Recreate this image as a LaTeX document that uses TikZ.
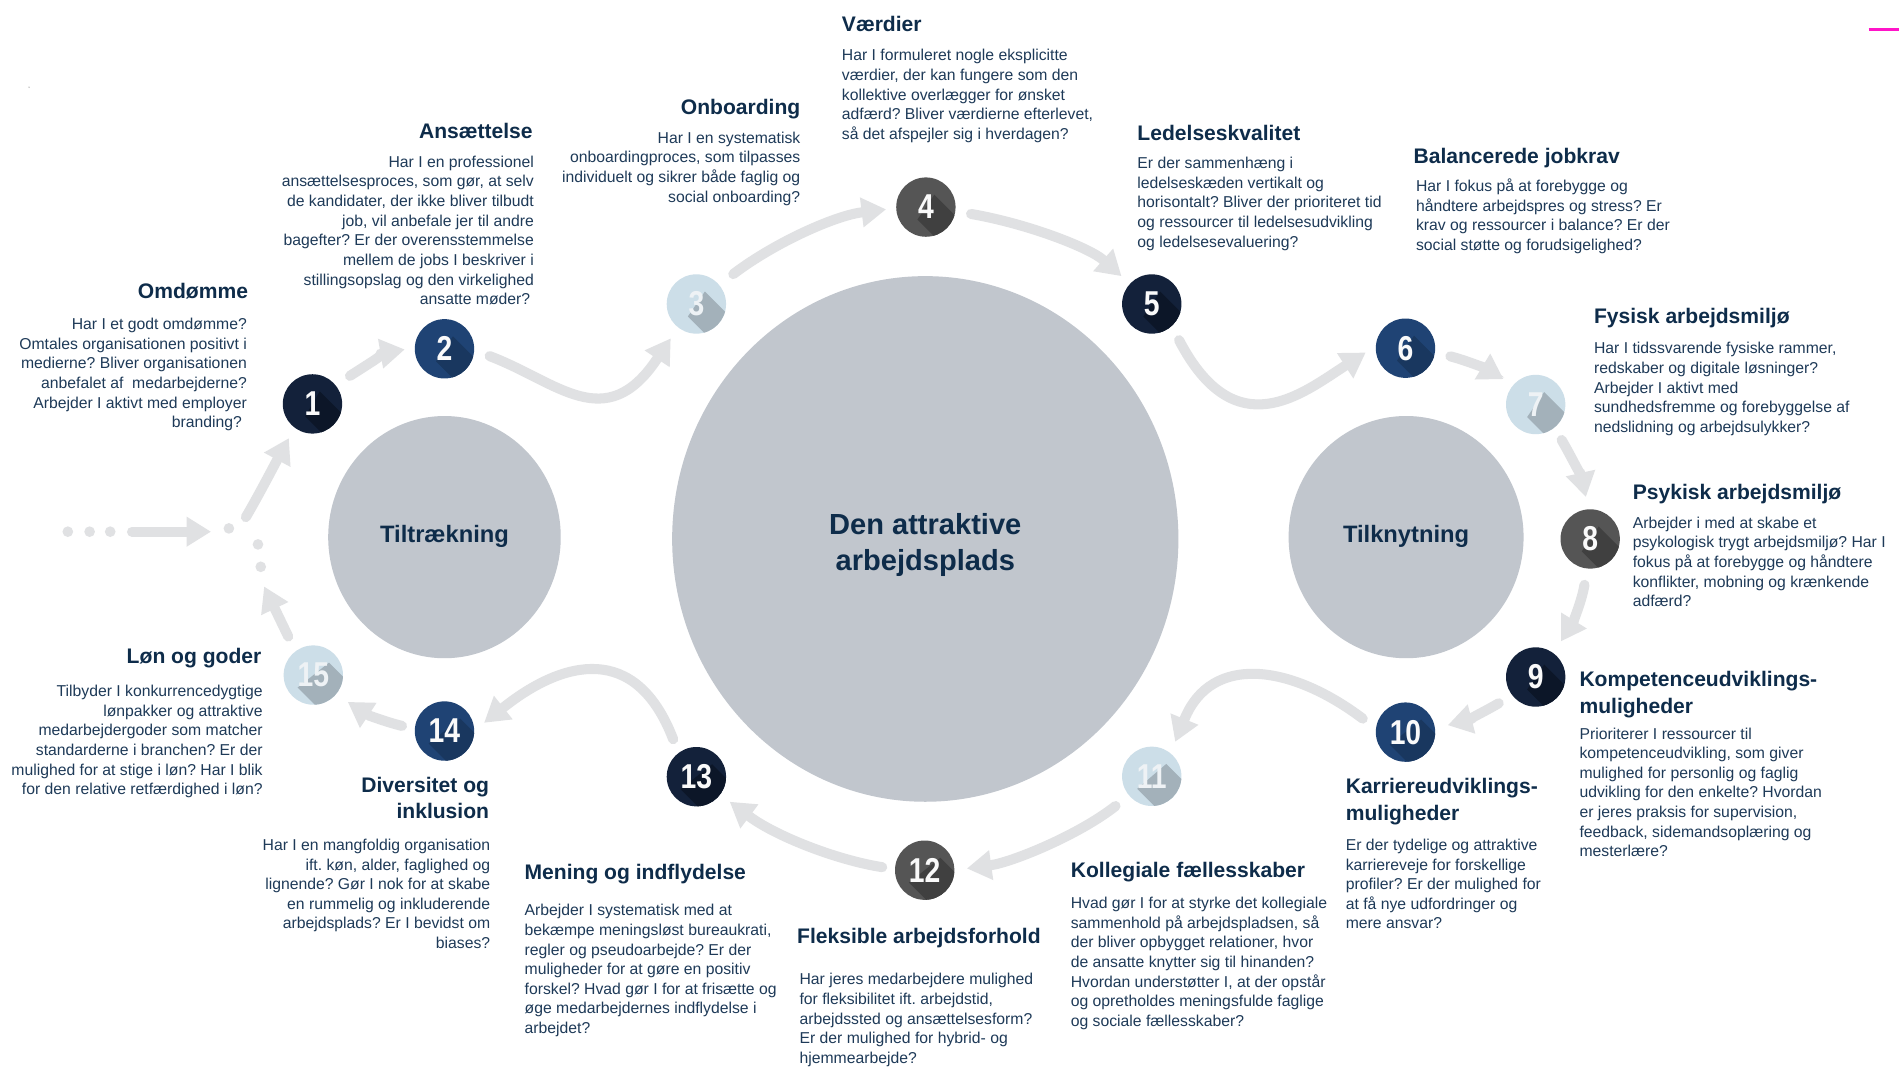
\documentclass[tikz,border=0pt]{standalone}
\usepackage{fontspec}
\usepackage{graphicx}
\setmainfont{Liberation Sans}
\usetikzlibrary{arrows.meta}
\frenchspacing
\definecolor{ttlc}{HTML}{0E2C4A}
\definecolor{bdy}{HTML}{1E3A58}
\definecolor{bigc}{HTML}{C1C6CD}
\definecolor{arrg}{HTML}{E0E1E3}
\definecolor{cA}{HTML}{13213A}\definecolor{sA}{HTML}{0C1628}
\definecolor{cB}{HTML}{1F4374}\definecolor{sB}{HTML}{19375F}
\definecolor{cC}{HTML}{CCDEE8}\definecolor{sC}{HTML}{A3B1BA}
\definecolor{cD}{HTML}{555555}\definecolor{sD}{HTML}{404040}
\definecolor{numw}{HTML}{FAFAFA}
\definecolor{numl}{HTML}{EEF2F5}
\definecolor{pinkline}{HTML}{FF14C8}
\newcommand{\bs}{\rule{0pt}{12pt}}
\newcommand{\ts}{\rule{0pt}{16pt}}
\newcommand{\numcirc}[8]{%
  \fill[#5] (#2,#3) circle (24.5pt);
  \begin{scope}
    \clip (#2,#3) circle (24.5pt);
    \fill[#6] ({#2+#7},{#3-10.3}) -- ({#2+#7+50},{#3+39.7}) -- ({#2-#7+50},{#3+60.3}) -- ({#2-#7},{#3+10.3}) -- cycle;
  \end{scope}
  \node[numnode, text=#8] (#1) at (#2,#3) {\scalebox{0.82}[1]{#4}};
}
\begin{document}
\frenchspacing
\begin{tikzpicture}[x=1pt,y=-1pt,
  numnode/.style={circle, minimum size=49pt, inner sep=0pt, font=\fontsize{28.5}{28.5}\selectfont\bfseries},
  arr/.style={draw=arrg, line width=8.3pt, line cap=round, -{Triangle[length=20pt,width=25pt,line width=0pt]}},
  body/.style={inner sep=0pt, text=bdy, font=\fontsize{13}{16.2}\selectfont\frenchspacing},
  bodyr/.style={body, align=right, anchor=north east},
  bodyl/.style={body, align=left, anchor=north west},
  ttl/.style={inner sep=0pt, text=ttlc, font=\fontsize{17.4}{22}\selectfont\bfseries},
  ttlr/.style={ttl, align=right, anchor=north east},
  ttll/.style={ttl, align=left, anchor=north west},
  biglabel/.style={text=ttlc, inner sep=0pt}
]
\fill[white] (0,0) rectangle (1568,886);
\useasboundingbox (0,0) rectangle (1568,886);

% pink mark and stray dot
\draw[pinkline, line width=2.5pt] (1543,24.4) -- (1568,24.4);
\fill[black!25] (24,72) circle (0.7pt);

% big circles
\fill[bigc] (367,443.5) ellipse [x radius=96pt, y radius=100pt];
\fill[bigc] (764,445) ellipse [x radius=209pt, y radius=217pt];
\fill[bigc] (1161,443.5) ellipse [x radius=97pt, y radius=100pt];
\node[biglabel, font=\fontsize{19.6}{24}\selectfont\bfseries, anchor=base] (lt) at (367,448) {Tiltrækning};
\node[biglabel, font=\fontsize{19.6}{24}\selectfont\bfseries, anchor=base] (lk) at (1161,448) {Tilknytning};
\node[biglabel, font=\fontsize{24}{30}\selectfont\bfseries, align=center] (lc) at (764,450) {Den attraktive\\arbejdsplads};

% numbered circles
\numcirc{n1}{258}{333.5}{1}{cA}{sA}{6}{numw}
\numcirc{n2}{367}{288}{2}{cB}{sB}{7}{numw}
\numcirc{n3}{575}{251}{3}{cC}{sC}{7}{numl}
\numcirc{n4}{764.5}{171}{4}{cD}{sD}{7}{numw}
\numcirc{n5}{951}{251}{5}{cA}{sA}{7}{numw}
\numcirc{n6}{1160.5}{287.5}{6}{cB}{sB}{7}{numw}
\numcirc{n7}{1268}{334}{7}{cC}{sC}{7}{numl}
\numcirc{n8}{1313}{445}{8}{cD}{sD}{7}{numw}
\numcirc{n9}{1268}{559}{9}{cA}{sA}{7}{numw}
\numcirc{n10}{1160.5}{604.5}{10}{cB}{sB}{13}{numw}
\numcirc{n11}{951}{641}{11}{cC}{sC}{12}{numl}
\numcirc{n12}{763.5}{718.5}{12}{cD}{sD}{13}{numw}
\numcirc{n13}{575}{641.3}{13}{cA}{sA}{13}{numw}
\numcirc{n14}{367}{603.6}{14}{cB}{sB}{13}{numw}
\numcirc{n15}{258.7}{557.4}{15}{cC}{sC}{13}{numl}

% entry dots and junction
\foreach \px/\py in {56/439,74/439,91/439,189/436.3,213/449.5,215.3/468}
  \fill[arrg] (\px,\py) circle (4.4pt);
\coordinate (e0) at (109,439);
\coordinate (e1) at (174,439);
\coordinate (j1) at (203,427);
\coordinate (j2) at (218.2,484.5);

% arrows
\draw[arr] (e0) -- (e1);
\draw[arr, shorten >=10pt] (j1) .. controls (213,410) and (226,385) .. (n1.233);
\draw[arr, shorten <=14pt, shorten >=8.5pt] (n1.39) .. controls (305,300) and (320,291) .. (n2.178);
\draw[arr, shorten <=13.5pt, shorten >=11pt] (n2.-3) .. controls (460,315) and (500,360) .. (n3.232);
\draw[arr, shorten <=14.5pt, shorten >=8.5pt] (n3.40) .. controls (640,200) and (690,178) .. (n4.182);
\draw[arr, shorten <=13pt, shorten >=9.5pt] (n4.-8) .. controls (850,185) and (900,205) .. (n5.137);
\draw[arr, shorten <=13pt, shorten >=10pt] (n5.-48) .. controls (1020,370) and (1075,325) .. (n6.176);
\draw[arr, shorten <=13pt, shorten >=9.5pt] (n6.-8) .. controls (1212,298) and (1228,305) .. (n7.139);
\draw[arr, shorten <=11.7pt, shorten >=10.5pt] (n7.-51) .. controls (1298,378) and (1306,395) .. (n8.93);
\draw[arr, shorten <=13.5pt, shorten >=11.7pt] (n8.264) .. controls (1306,497) and (1298,515) .. (n9.53);
\draw[arr, shorten <=12.8pt, shorten >=11pt] (n9.218) .. controls (1225,588) and (1210,595) .. (n10.7);
\draw[arr, shorten <=13.5pt, shorten >=10.3pt] (n10.173) .. controls (1065,548) and (1000,540) .. (n11.51);
\draw[arr, shorten <=14pt, shorten >=10.5pt] (n11.220) .. controls (890,690) and (835,712) .. (n12.0);
\draw[arr, shorten <=10.5pt, shorten >=10pt] (n12.178) .. controls (690,710) and (640,690) .. (n13.-37);
\draw[arr, shorten <=12pt, shorten >=10.5pt] (n13.127) .. controls (525,530) and (465,545) .. (n14.1);
\draw[arr, shorten <=10.7pt, shorten >=11.7pt] (n14.176) .. controls (318,596) and (303,590) .. (n15.-40);
\draw[arr, shorten <=13.4pt] (n15.127) -- (j2);

% texts
\node[ttlr] (t1) at (205,230) {\ts Omdømme};
\node[bodyr] (b1) at (204,260) {\bs Har I et godt omdømme?\\Omtales organisationen positivt i\\medierne? Bliver organisationen\\anbefalet af\ \ medarbejderne?\\Arbejder I aktivt med employer\\branding?\hspace*{4pt}};

\node[ttlr] (t2) at (440,98) {\ts Ansættelse};
\node[bodyr] (b2) at (441,126) {\bs Har I en professionel\\ansættelsesproces, som gør, at selv\\de kandidater, der ikke bliver tilbudt\\job, vil anbefale jer til andre\\bagefter? Er der overensstemmelse\\mellem de jobs I beskriver i\\stillingsopslag og den virkelighed\\ansatte møder?\hspace*{3pt}};

\node[ttlr] (t3) at (661,78) {\ts Onboarding};
\node[bodyr] (b3) at (661,106) {\bs Har I en systematisk\\onboardingproces, som tilpasses\\individuelt og sikrer både faglig og\\social onboarding?};

\node[ttll] (t4) at (695,10) {\ts Værdier};
\node[bodyl] (b4) at (695,38) {\bs Har I formuleret nogle eksplicitte\\værdier, der kan fungere som den\\kollektive overlægger for ønsket\\adfærd? Bliver værdierne efterlevet,\\så det afspejler sig i hverdagen?};

\node[ttll] (t5) at (939,100) {\ts Ledelseskvalitet};
\node[bodyl] (b5) at (939,127) {\bs Er der sammenhæng i\\ledelseskæden vertikalt og\\horisontalt? Bliver der prioriteret tid\\og ressourcer til ledelsesudvikling\\og ledelsesevaluering?};

\node[ttll] (t6) at (1167,119) {\ts Balancerede jobkrav};
\node[bodyl] (b6) at (1169,146) {\bs Har I fokus på at forebygge og\\håndtere arbejdspres og stress? Er\\krav og ressourcer i balance? Er der\\social støtte og forudsigelighed?};

\node[ttll] (t7) at (1316,251) {\ts Fysisk arbejdsmiljø};
\node[bodyl] (b7) at (1316,280) {\bs Har I tidssvarende fysiske rammer,\\redskaber og digitale løsninger?\\Arbejder I aktivt med\\sundhedsfremme og forebyggelse af\\nedslidning og arbejdsulykker?};

\node[ttll] (t8) at (1348,396) {\ts Psykisk arbejdsmiljø};
\node[bodyl] (b8) at (1348,424) {\bs Arbejder i med at skabe et\\psykologisk trygt arbejdsmiljø? Har I\\fokus på at forebygge og håndtere\\konflikter, mobning og krænkende\\adfærd?};

\node[ttll] (t9) at (1304,551) {\ts Kompetenceudviklings-\\muligheder};
\node[bodyl] (b9) at (1304,598) {\bs Prioriterer I ressourcer til\\kompetenceudvikling, som giver\\mulighed for personlig og faglig\\udvikling for den enkelte? Hvordan\\er jeres praksis for supervision,\\feedback, sidemandsoplæring og\\mesterlære?};

\node[ttll] (t10) at (1111,639) {\ts Karriereudviklings-\\muligheder};
\node[bodyl] (b10) at (1111,690) {\bs Er der tydelige og attraktive\\karriereveje for forskellige\\profiler? Er der mulighed for\\at få nye udfordringer og\\mere ansvar?};

\node[ttll] (t11) at (884,708) {\ts Kollegiale fællesskaber};
\node[bodyl] (b11) at (884,738) {\bs Hvad gør I for at styrke det kollegiale\\sammenhold på arbejdspladsen, så\\der bliver opbygget relationer, hvor\\de ansatte knytter sig til hinanden?\\Hvordan understøtter I, at der opstår\\og opretholdes meningsfulde faglige\\og sociale fællesskaber?};

\node[ttll] (t12) at (658,763) {\ts Fleksible arbejdsforhold};
\node[bodyl] (b12) at (660,801) {\bs Har jeres medarbejdere mulighed\\for fleksibilitet ift. arbejdstid,\\arbejdssted og ansættelsesform?\\Er der mulighed for hybrid- og\\hjemmearbejde?};

\node[ttll] (t13) at (433,710) {\ts Mening og indflydelse};
\node[bodyl] (b13) at (433,744) {\bs Arbejder I systematisk med at\\bekæmpe meningsløst bureaukrati,\\regler og pseudoarbejde? Er der\\muligheder for at gøre en positiv\\forskel? Hvad gør I for at frisætte og\\øge medarbejdernes indflydelse i\\arbejdet?};

\node[ttlr] (t14) at (404,638) {\ts Diversitet og\\inklusion};
\node[bodyr] (b14) at (405,690) {\bs Har I en mangfoldig organisation\\ift. køn, alder, faglighed og\\lignende? Gør I nok for at skabe\\en rummelig og inkluderende\\arbejdsplads? Er I bevidst om\\biases?};

\node[ttlr] (t15) at (216,532) {\ts Løn og goder};
\node[bodyr] (b15) at (217,563) {\bs Tilbyder I konkurrencedygtige\\lønpakker og attraktive\\medarbejdergoder som matcher\\standarderne i branchen? Er der\\mulighed for at stige i løn? Har I blik\\for den relative retfærdighed i løn?};
\end{tikzpicture}
\end{document}
